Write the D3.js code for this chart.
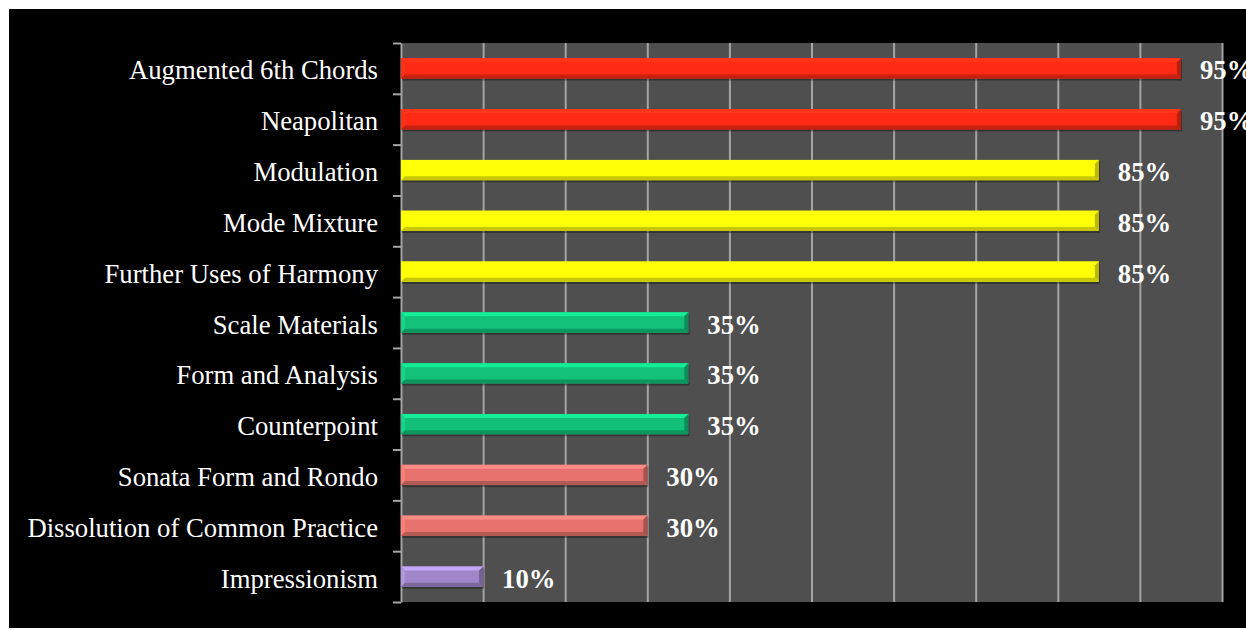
<!DOCTYPE html>
<html>
<head>
<meta charset="utf-8">
<script src="https://cdn.jsdelivr.net/npm/d3@7"></script>
<style>
  html, body { margin: 0; padding: 0; background: #fff; }
  svg { display: block; }
</style>
</head>
<body>
<div id="chart"></div>
<script>
// categories top to bottom, values in percent
var topics = ["Augmented 6th Chords", "Neapolitan ", "Modulation", "Mode Mixture",
    "Further Uses of Harmony", "Scale Materials", "Form and Analysis", "Counterpoint",
    "Sonata Form and Rondo", "Dissolution of Common Practice", "Impressionism"];
var percents = [95, 95, 85, 85, 85, 35, 35, 35, 30, 30, 10];
var gridTicks = [0, 10, 20, 30, 40, 50, 60, 70, 80, 90, 100];

// one colour per level
var colour = d3.scaleOrdinal()
    .domain([95, 85, 35, 30, 10])
    .range(["#ff2a14", "#ffff08", "#12c07a", "#e5726c", "#a086c8"]);

var W = 1246, H = 630;
var plotLeft = 401, plotRight = 1222, plotTop = 43, plotBottom = 602;

var svg = d3.select("#chart").append("svg")
    .attr("width", W)
    .attr("height", H);

// black slide background
svg.append("rect")
    .attr("x", 9).attr("y", 9)
    .attr("width", W - 9).attr("height", H - 11)
    .attr("fill", "#000");

var x = d3.scaleLinear().domain([0, 100]).range([plotLeft, plotRight]);
var y = d3.scaleBand().domain(topics).range([plotTop, plotBottom]).paddingInner(0.6).paddingOuter(0.3);
var yEdge = d3.scaleLinear().domain([0, topics.length]).range([plotTop, plotBottom]);

// plot area
svg.append("rect")
    .attr("x", plotLeft).attr("y", plotTop)
    .attr("width", plotRight - plotLeft).attr("height", plotBottom - plotTop)
    .attr("fill", "#4f4f4f");

// vertical grid
var grid = svg.append("g")
    .attr("transform", "translate(0," + plotBottom + ")")
    .call(d3.axisBottom(x).tickValues(gridTicks.slice(1)).tickSize(-(plotBottom - plotTop)).tickFormat(""));
grid.select(".domain").remove();
grid.selectAll("line").attr("stroke", "#a4a4a4").attr("stroke-width", 2);

// category axis with ticks between the bars
var yAxis = svg.append("g")
    .attr("transform", "translate(" + plotLeft + ",0)")
    .call(d3.axisLeft(yEdge).tickValues(d3.range(topics.length + 1)).tickSize(8).tickSizeOuter(0).tickFormat(""));
yAxis.select(".domain").attr("stroke", "#a4a4a4").attr("stroke-width", 2);
yAxis.selectAll("line").attr("stroke", "#a4a4a4").attr("stroke-width", 2);

// category labels
svg.append("g").selectAll("text")
    .data(topics)
    .enter().append("text")
    .attr("x", 378)
    .attr("y", function (d) { return y(d) + y.bandwidth() / 2 + 11; })
    .attr("text-anchor", "end")
    .attr("fill", "#fff")
    .attr("font-family", "Liberation Serif, Times New Roman, serif")
    .attr("font-size", 26.7)
    .text(function (d) { return d; });

// bevelled bars
var bev = 4;
var bars = svg.append("g").selectAll("g")
    .data(percents)
    .enter().append("g")
    .attr("transform", function (d, i) { return "translate(" + x(0) + "," + y(topics[i]) + ")"; });

function poly(pts) {
    return "M" + pts.map(function (p) { return p.join(","); }).join("L") + "Z";
}

bars.append("rect") // shadow
    .attr("x", 1).attr("y", 2)
    .attr("width", function (d) { return x(d) - x(0); })
    .attr("height", y.bandwidth())
    .attr("fill", "#000").attr("opacity", 0.35);

bars.append("rect")
    .attr("width", function (d) { return x(d) - x(0); })
    .attr("height", y.bandwidth())
    .attr("fill", function (d) { return colour(d); });

bars.append("path") // top face
    .attr("d", function (d) {
        var w = x(d) - x(0);
        return poly([[0, 0], [w, 0], [w - bev, bev], [bev, bev]]);
    })
    .attr("fill", function (d) { return d3.rgb(colour(d)).brighter(0.6); });

bars.append("path") // left face
    .attr("d", function (d) {
        var h = y.bandwidth();
        return poly([[0, 0], [bev, bev], [bev, h - bev], [0, h]]);
    })
    .attr("fill", function (d) { return d3.rgb(colour(d)).brighter(0.3); });

bars.append("path") // bottom face
    .attr("d", function (d) {
        var w = x(d) - x(0), h = y.bandwidth();
        return poly([[0, h], [bev, h - bev], [w - bev, h - bev], [w, h]]);
    })
    .attr("fill", function (d) { return d3.rgb(colour(d)).darker(0.7); });

bars.append("path") // right face
    .attr("d", function (d) {
        var w = x(d) - x(0), h = y.bandwidth();
        return poly([[w, 0], [w, h], [w - bev, h - bev], [w - bev, bev]]);
    })
    .attr("fill", function (d) { return d3.rgb(colour(d)).darker(0.9); });

// value labels
svg.append("g").selectAll("text")
    .data(percents)
    .enter().append("text")
    .attr("x", function (d) { return x(d) + 19; })
    .attr("y", function (d, i) { return y(topics[i]) + y.bandwidth() / 2 + 11; })
    .attr("fill", "#fff")
    .attr("font-family", "Liberation Serif, Times New Roman, serif")
    .attr("font-weight", "bold")
    .attr("font-size", 26.7)
    .text(function (d) { return d + "%"; });
</script>
</body>
</html>
